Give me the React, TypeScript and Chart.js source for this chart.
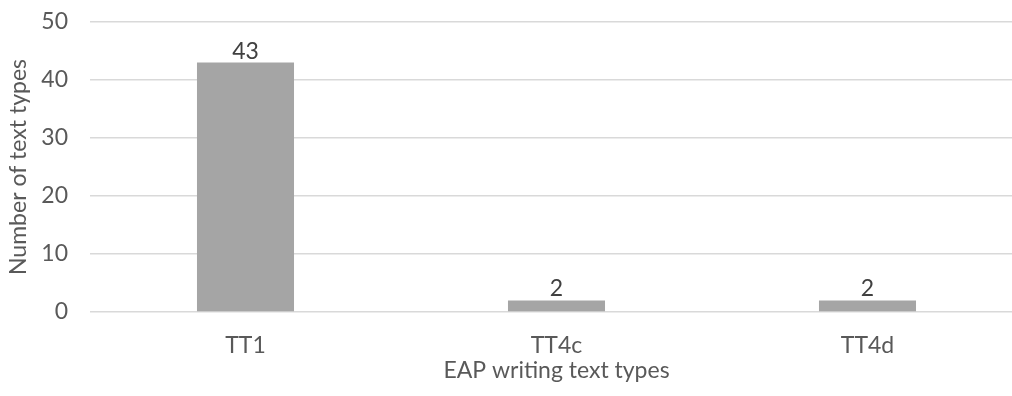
import React, { useEffect, useRef } from "react";
import { Chart, registerables } from "chart.js";

Chart.register(...registerables);

const categories = ["TT1", "TT4c", "TT4d"];
const counts = [43, 2, 2];
const yTicks = [0, 10, 20, 30, 40, 50];

const FONT = "Lato, sans-serif";
const SIZE = 23;
const TEXT = "#595959";
const CANVAS_W = 1040;
const CANVAS_H = 396;

const valueLabels = {
  id: "valueLabels",
  afterDatasetsDraw(chart: any) {
    const ctx = chart.ctx;
    const meta = chart.getDatasetMeta(0);
    ctx.save();
    ctx.font = `${SIZE}px ${FONT}`;
    ctx.fillStyle = "#404040";
    ctx.textAlign = "center";
    ctx.textBaseline = "alphabetic";
    meta.data.forEach((bar: any, i: number) => {
      ctx.fillText(String(counts[i]), bar.x, bar.y - 4);
    });
    ctx.restore();
  },
};

export default function App() {
  const ref = useRef<HTMLCanvasElement>(null);

  useEffect(() => {
    document.body.style.margin = "0";
    const chart = new Chart(ref.current!, {
      type: "bar",
      data: {
        labels: categories,
        datasets: [
          {
            data: counts,
            backgroundColor: "#a5a5a5",
            categoryPercentage: 1,
            barPercentage: 0.312,
          },
        ],
      },
      options: {
        animation: false,
        responsive: false,
        layout: { padding: { top: 22, right: CANVAS_W - 1023, left: 0, bottom: 0 } },
        plugins: { legend: { display: false }, tooltip: { enabled: false } },
        scales: {
          x: {
            grid: { display: false },
            border: { display: false },
            ticks: { color: TEXT, font: { family: FONT, size: SIZE }, padding: 12 },
            title: {
              display: true,
              text: "EAP writing text types",
              color: TEXT,
              font: { family: FONT, size: SIZE },
              padding: { top: 0, bottom: 12 },
            },
            afterFit(scale: any) {
              scale.height = 84;
              scale.paddingLeft = 0;
              scale.paddingRight = 0;
            },
          },
          y: {
            min: 0,
            max: 50,
            afterBuildTicks(scale: any) {
              scale.ticks = yTicks.map((v) => ({ value: v }));
            },
            grid: { color: "#d9d9d9", lineWidth: 1.5, drawTicks: false },
            border: { display: false },
            ticks: { color: TEXT, font: { family: FONT, size: SIZE }, padding: 22 },
            title: {
              display: true,
              text: "Number of text types",
              color: TEXT,
              font: { family: FONT, size: SIZE },
              padding: { top: 5, bottom: 0 },
            },
            afterFit(scale: any) {
              scale.width = 90;
              scale.paddingTop = 0;
              scale.paddingBottom = 0;
            },
          },
        },
      },
      plugins: [valueLabels],
    });
    return () => chart.destroy();
  }, []);

  return (
    <div style={{ width: 1012, height: CANVAS_H, overflow: "hidden", background: "#fff" }}>
      <canvas ref={ref} width={CANVAS_W} height={CANVAS_H} style={{ display: "block" }} />
    </div>
  );
}
